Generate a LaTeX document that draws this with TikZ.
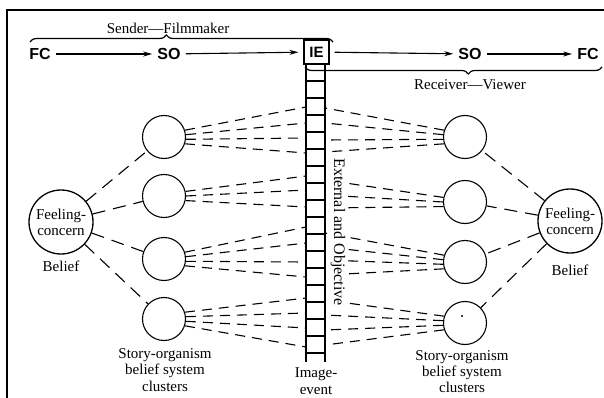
\documentclass[tikz,border=0pt]{standalone}
\usepackage{fontspec}
\setmainfont{Liberation Serif}
\setsansfont{Liberation Sans}
\usetikzlibrary{arrows.meta,decorations.pathreplacing}

\begin{document}
\begin{tikzpicture}[x=1pt,y=-1pt,
  lbl/.style={font=\fontsize{15}{17}\selectfont, align=center, inner sep=0pt},
  code/.style={font=\sffamily\bfseries\fontsize{16}{18}\selectfont, inner sep=0pt},
  flow/.style={line width=1.1pt, -{Stealth[length=9pt,width=5pt]}, shorten <=5pt, shorten >=5pt},
  cluster/.style={circle, draw, line width=1.1pt, minimum size=43pt, inner sep=0pt},
  core/.style={circle, draw, line width=1.3pt, minimum size=64pt, inner sep=0pt,
               align=center, font=\fontsize{15}{16}\selectfont},
  link/.style={line width=1.1pt, dash pattern=on 13pt off 8pt},
  ray/.style={line width=1.1pt, dash pattern=on 10pt off 7pt},
  rail/.style={line width=1.2pt},
  curly/.style={line width=1.2pt, decorate, decoration={brace, amplitude=7pt, aspect=0.45}},
]
\useasboundingbox (0,0) rectangle (604,398);
% frame edges
\draw[line width=2pt] (7,398) -- (7,10) -- (604,10);

% sender / receiver headings
\node[lbl] (snd) at (168,28) {Sender---Filmmaker};
\draw[curly] (30,42) -- (333,42);
\draw[curly] (602,67) -- (305,67);
\node[lbl] (rcv) at (470,85) {Receiver---Viewer};

% top flow row
\node[code] (fc1) at (40,54) {FC};
\node[code] (so1) at (169,54) {SO};
\node[draw, line width=1.2pt, minimum width=25pt, minimum height=24pt, inner sep=0pt,
      fill=white, font=\sffamily\bfseries\fontsize{15}{17}\selectfont] (ie) at (316.5,52) {IE};
\node[code] (so2) at (470,54) {SO};
\node[code] (fc2) at (588,54) {FC};
\draw[flow] (fc1) -- (so1);
\draw[flow] (so1) -- (ie);
\draw[flow] (ie) -- (so2);
\draw[flow] (so2) -- (fc2);

% image-event ladder
\draw[rail] (306,64) -- (306,362);
\draw[rail] (325,64) -- (325,362);
\foreach \k in {1,...,17}
  \draw[rail] (306,64+17*\k) -- (325,64+17*\k);
\node[lbl] (img) at (316,381) {Image-\\event};

% feeling-concern cores
\node[core] (coreL) at (61,222) {Feeling-\\concern};
\node[lbl] (belL) at (61,266) {Belief};
\node[core] (coreR) at (570,221) {Feeling-\\concern};
\node[lbl] (belR) at (570,270) {Belief};

% story-organism clusters
\foreach \i/\y in {1/137,2/196,3/259,4/319}
  \node[cluster] (sl\i) at (164,\y) {};
\foreach \i/\y in {1/137,2/202,3/262,4/323}
  \node[cluster] (sr\i) at (465,\y) {};
\fill (462,316) circle (1.2pt);

\node[lbl, font=\fontsize{15}{16.5}\selectfont] (capL) at (165,370) {Story-organism\\belief system\\clusters};
\node[lbl, font=\fontsize{15}{16}\selectfont] (capR) at (462,372) {Story-organism\\belief system\\clusters};

% belief links
\foreach \i in {1,...,4} {
  \draw[link] (coreL) -- (sl\i);
  \draw[link] (coreR) -- (sr\i);
}

% rays between clusters and the image-event
\foreach \g/\pairs in {1/{18/107,6/123,-6/138,-18/153},
                       2/{12/176,0/190,-12/207},
                       3/{18/227,6/243,-6/262,-18/277},
                       4/{18/298,6/313,-6/328,-18/347}} {
  \foreach \a/\y in \pairs {
    \coordinate (lp-\g-\y) at (306,\y);
    \draw[ray] (sl\g.\a) -- (lp-\g-\y);
  }
}
\foreach \g/\pairs in {1/{162/108,174/123,186/140,198/152},
                       2/{168/180,180/195,192/208},
                       3/{162/233,174/247,186/260,198/275},
                       4/{162/300,174/315,186/330,198/345}} {
  \foreach \a/\y in \pairs {
    \coordinate (rp-\g-\y) at (325,\y);
    \draw[ray] (sr\g.\a) -- (rp-\g-\y);
  }
}

% vertical caption laid over the rays
\node[lbl, rotate=-90, fill=white, inner sep=1pt, font=\fontsize{16}{18}\selectfont]
  (ext) at (338,232) {External and Objective};
\end{tikzpicture}
\end{document}
